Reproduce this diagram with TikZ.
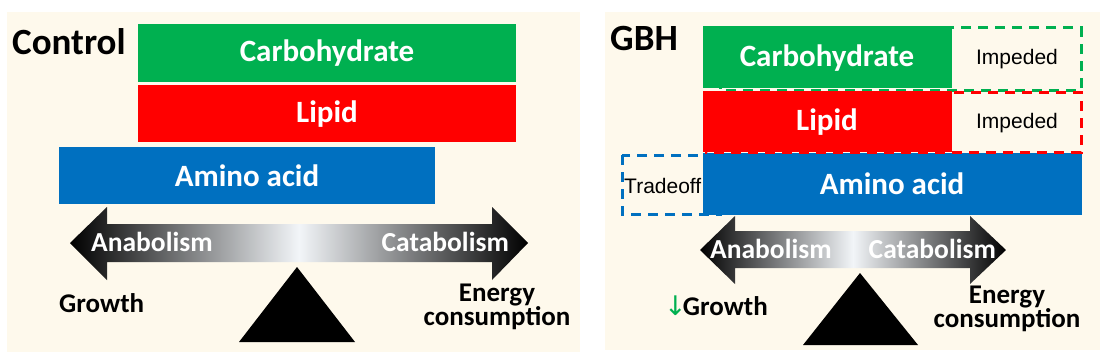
\documentclass[tikz,border=0pt]{standalone}
\usepackage{fontspec}
\setmainfont{Carlito}
\newfontfamily\arialf{Liberation Sans}
\newfontfamily\dejavuf{DejaVu Sans}
\definecolor{bg}{HTML}{FEF9EC}
\definecolor{cgreen}{HTML}{00B050}
\definecolor{cred}{HTML}{FF0000}
\definecolor{cblue}{HTML}{0070C0}
\definecolor{midc}{HTML}{F2F5F8}
\begin{document}
\begin{tikzpicture}[x=1pt,y=-1pt,
  panel/.style={fill=bg, draw=none},
  barlabel/.style={text=white, font=\fontsize{31}{31}\selectfont\bfseries, inner sep=0},
  title/.style={font=\fontsize{37}{37}\selectfont\bfseries, inner sep=0, anchor=base west},
  armlabel/.style={text=white, font=\fontsize{27.5}{27.5}\selectfont\bfseries, inner sep=0},
  outcome/.style={font=\fontsize{27}{27}\selectfont\bfseries, inner sep=0, anchor=base},
  note/.style={font=\arialf\fontsize{21}{21}\selectfont, inner sep=0},
  dashbox/.style={line width=3pt, dash pattern=on 10pt off 7pt},
  balance/.style={left color=black, right color=black, middle color=midc, draw=none},
  fulcrum/.style={fill=black, draw=none}
]
\useasboundingbox (0,0) rectangle (1107,361);
\fill[white] (0,0) rectangle (1107,361);
% panels
\fill[panel] (7,12) rectangle (580,352);
\fill[panel] (605,12) rectangle (1100,350);

% ---------- Control ----------
\node[title] (ctitle) at (12,55) {Control};
\fill[cgreen] (138,24) rectangle (516,82);
\node[barlabel] (ccarb) at (327,53) {Carbohydrate};
\fill[cred] (138,85) rectangle (516,142);
\node[barlabel] (clip) at (327,114) {Lipid};
\fill[cblue] (59,147) rectangle (435,204);
\node[barlabel] (camino) at (247,176) {Amino acid};

\shade[balance] (70,243) -- (107,207) -- (107,224) -- (492,224) -- (492,207) -- (528,243)
  -- (492,280) -- (492,262) -- (107,262) -- (107,280) -- cycle;
\node[armlabel, anchor=base west] (cana) at (91,251) {Anabolism};
\node[armlabel, anchor=base east] (ccat) at (509,251) {Catabolism};
\fill[fulcrum] (297,267) -- (355,342) -- (239,342) -- cycle;
\node[outcome, anchor=base west] (cgrow) at (59,312) {Growth};
\node[outcome] (cen1) at (497,301) {Energy};
\node[outcome] (cen2) at (497,325) {consumption};

% ---------- GBH ----------
\node[title] (gtitle) at (610,51) {GBH};
\draw[dashbox, cblue] (622,155) rectangle (720,214);
\fill[cblue] (703,153) rectangle (1082,215);
\node[note, anchor=base west] (trade) at (624,193) {Tradeoff};
\node[barlabel] (gamino) at (892,184) {Amino acid};

\draw[dashbox, cgreen] (720,28) rectangle (1081,90);
\fill[cgreen] (703,26) rectangle (952,88);
\node[barlabel] (gcarb) at (827,58) {Carbohydrate};
\node[note] (imp1) at (1017,59) {Impeded};

\fill[cred] (703,91) rectangle (952,152);
\draw[dashbox, cred] (706,92) rectangle (1081,152);
\node[barlabel] (glip) at (827,122) {Lipid};
\node[note] (imp2) at (1017,123) {Impeded};

\shade[balance] (700,250) -- (735,216) -- (735,231) -- (970,231) -- (970,216) -- (1006,250)
  -- (970,284) -- (970,268) -- (735,268) -- (735,284) -- cycle;
\node[armlabel, anchor=base west] (gana) at (710,258) {Anabolism};
\node[armlabel, anchor=base east] (gcat) at (996,258) {Catabolism};
\fill[fulcrum] (860,273) -- (918,345) -- (803,345) -- cycle;
\node[outcome, anchor=base west] (ggrow) at (664,315) {{\dejavuf\mdseries\color{cgreen}\fontsize{27}{27}\selectfont ↓}\kern-4pt Growth};
\node[outcome] (gen1) at (1007,303) {Energy};
\node[outcome] (gen2) at (1007,327) {consumption};
\end{tikzpicture}
\end{document}
